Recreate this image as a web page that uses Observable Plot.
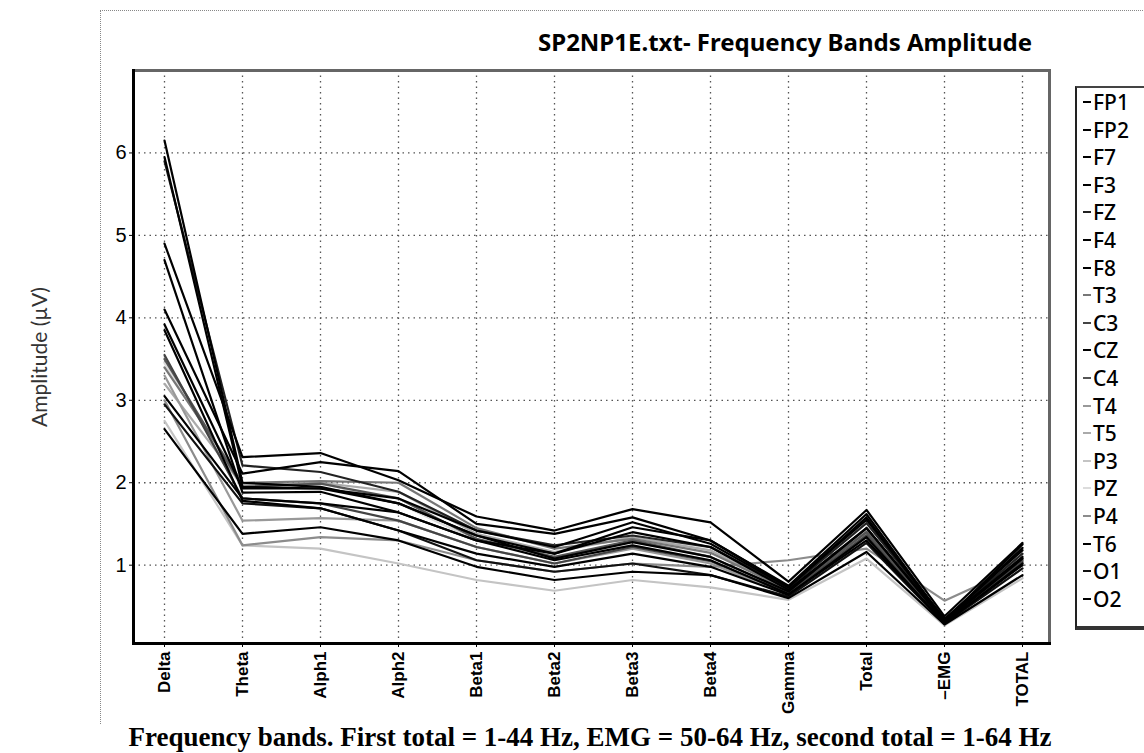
<!DOCTYPE html>
<html>
<head>
<meta charset="utf-8">
<script src="https://cdn.jsdelivr.net/npm/d3@7"></script>
<script src="https://cdn.jsdelivr.net/npm/@observablehq/plot@0.6"></script>
<style>
  html, body { margin: 0; padding: 0; background: #fff; overflow: hidden; }
  #wrap { position: relative; width: 1144px; height: 753px; overflow: hidden; }
  #chart { position: absolute; left: 0; top: 0; }
  #outer { position: absolute; left: 100px; top: 10px; width: 1060px; height: 713px;
           border-top: 1px dotted #888; border-left: 1px dotted #888; }
  #title { position: absolute; right: 112px; top: 28px; font-family: "Noto Sans", sans-serif;
           font-weight: 700; font-size: 24px; line-height: 28px; color: #000; white-space: nowrap; }
  #caption { position: absolute; left: 0; width: 1180px; top: 724px; text-align: center;
             font-family: "Liberation Serif", "Times New Roman", serif; font-weight: 700;
             font-size: 27px; line-height: 27px; color: #000; white-space: nowrap; }
  #legend { position: absolute; left: 1075px; top: 86px; width: 90px; height: 538px;
            border-left: 2px solid #222; border-top: 2px solid #444; border-bottom: 4px solid #333;
            background: #fff; }
  .item { position: absolute; left: 6px; height: 26px; display: flex; align-items: center;
          font-family: "Noto Sans", sans-serif; font-size: 21px; font-weight: 500; color: #000; }
  .sw { display: inline-block; width: 8px; height: 2px; margin-right: 2px; }
</style>
</head>
<body>
<div id="wrap">
  <div id="outer"></div>
  <div id="chart"></div>
  <div id="title"></div>
  <div id="legend"></div>
  <div id="caption"></div>
</div>
<script>
const titleText = "SP2NP1E.txt- Frequency Bands Amplitude";
const captionText = "Frequency bands. First total = 1-44 Hz, EMG = 50-64 Hz, second total = 1-64 Hz";
const yLabel = "Amplitude (\u00b5V)";

const bands = ["Delta", "Theta", "Alph1", "Alph2", "Beta1", "Beta2", "Beta3", "Beta4", "Gamma", "Total", "\u2013EMG", "TOTAL"];
const yTicks = [1, 2, 3, 4, 5, 6];

const channels = ["FP1", "FP2", "F7", "F3", "FZ", "F4", "F8", "T3", "C3", "CZ", "C4", "T4", "T5", "P3", "PZ", "P4", "T6", "O1", "O2"];
const colors   = ["#000", "#000", "#000", "#000", "#222", "#000", "#000", "#777", "#444", "#000", "#555", "#999", "#aaa", "#c4c4c4", "#dcdcdc", "#8c8c8c", "#000", "#111", "#000"];

const FP1 = [6.15, 2.00, 1.95, 1.75, 1.36, 1.14, 1.46, 1.30, 0.75, 1.62, 0.33, 1.25];
const FP2 = [5.95, 1.95, 1.93, 1.81, 1.42, 1.22, 1.52, 1.26, 0.73, 1.58, 0.32, 1.21];
const F7  = [4.90, 2.31, 2.36, 2.03, 1.59, 1.42, 1.68, 1.52, 0.80, 1.67, 0.38, 1.27];
const F3  = [4.10, 2.11, 2.25, 2.14, 1.50, 1.38, 1.58, 1.30, 0.74, 1.55, 0.35, 1.18];
const FZ  = [5.90, 2.21, 2.13, 1.89, 1.42, 1.24, 1.36, 1.22, 0.72, 1.51, 0.34, 1.14];
const F4  = [4.70, 1.88, 1.89, 1.64, 1.30, 1.14, 1.40, 1.22, 0.70, 1.45, 0.33, 1.10];
const F8  = [3.92, 1.93, 1.93, 1.75, 1.36, 1.08, 1.28, 1.10, 0.68, 1.45, 0.31, 1.08];
const T3  = [3.40, 2.00, 2.02, 2.00, 1.45, 1.20, 1.32, 1.15, 0.70, 1.40, 0.32, 1.08];
const C3  = [3.55, 1.81, 1.75, 1.54, 1.22, 1.02, 1.22, 1.05, 0.66, 1.36, 0.30, 1.04];
const CZ  = [3.85, 1.78, 1.69, 1.42, 1.14, 0.98, 1.14, 0.98, 0.64, 1.34, 0.29, 1.02];
const C4  = [3.50, 1.95, 1.99, 1.81, 1.32, 1.10, 1.30, 1.10, 0.68, 1.40, 0.31, 1.06];
const T4  = [3.30, 1.54, 1.57, 1.54, 1.22, 1.02, 1.20, 1.02, 0.64, 1.38, 0.30, 1.02];
const T5  = [3.20, 1.97, 2.00, 1.89, 1.38, 1.16, 1.34, 1.18, 0.70, 1.42, 0.32, 1.10];
const P3  = [2.75, 1.24, 1.20, 1.02, 0.82, 0.69, 0.82, 0.73, 0.58, 1.08, 0.27, 0.84];
const PZ  = [3.45, 1.93, 2.00, 1.75, 1.30, 1.08, 1.24, 1.06, 0.66, 1.38, 0.30, 1.04];
const P4  = [3.00, 1.24, 1.34, 1.30, 1.06, 0.92, 1.02, 0.98, 1.06, 1.20, 0.57, 1.00];
const T6  = [3.05, 1.81, 1.75, 1.64, 1.30, 1.06, 1.24, 1.06, 0.65, 1.30, 0.30, 1.00];
const O1  = [2.95, 1.75, 1.69, 1.42, 1.06, 0.92, 1.02, 0.88, 0.62, 1.27, 0.29, 0.96];
const O2  = [2.65, 1.38, 1.46, 1.30, 0.98, 0.82, 0.92, 0.88, 0.60, 1.16, 0.28, 0.88];

const seriesValues = [FP1, FP2, F7, F3, FZ, F4, F8, T3, C3, CZ, C4, T4, T5, P3, PZ, P4, T6, O1, O2];

// draw lighter lines first so dark ones sit on top
const drawOrder = d3.range(channels.length).sort((a, b) => d3.hsl(colors[b]).l - d3.hsl(colors[a]).l);
const data = drawOrder.flatMap(i => seriesValues[i].map((v, j) => ({channel: channels[i], band: bands[j], value: v})));

const chart = Plot.plot({
  width: 1144,
  height: 753,
  marginLeft: 133,
  marginRight: 95,
  marginTop: 70,
  marginBottom: 110,
  style: {background: "transparent", color: "#000"},
  x: {type: "point", domain: bands, padding: 0, insetLeft: 28, insetRight: 25, label: null},
  y: {domain: [0.05, 7.0], label: null},
  color: {domain: channels, range: colors},
  marks: [
    Plot.gridX(bands, {stroke: "#555", strokeOpacity: 1, strokeWidth: 1.3, strokeDasharray: "1.5,4"}),
    Plot.gridY(yTicks, {stroke: "#555", strokeOpacity: 1, strokeWidth: 1.3, strokeDasharray: "1.5,4"}),
    Plot.line(data, {x: "band", y: "value", z: "channel", stroke: "channel", strokeWidth: 2.2, strokeLinejoin: "round"}),
    Plot.frame({stroke: "#666", strokeWidth: 3}),
    Plot.frame({anchor: "left", stroke: "#000", strokeWidth: 3}),
    Plot.frame({anchor: "bottom", stroke: "#000", strokeWidth: 3}),
    Plot.axisX({tickRotate: -90, tickSize: 4, tickPadding: 4, fontSize: 17, fontWeight: "bold",
                fontFamily: "Liberation Sans, Arial, sans-serif", label: null}),
    Plot.axisY(yTicks, {tickSize: 4, tickPadding: 3, fontSize: 20, tickFormat: d => String(d),
                fontFamily: "Liberation Sans, Arial, sans-serif", label: null}),
    Plot.text([yLabel], {frameAnchor: "left", dx: -93, rotate: -90, textAnchor: "middle", fontSize: 21,
                fontFamily: "Lato, Open Sans, sans-serif", fill: "#333"})
  ]
});
document.getElementById("chart").appendChild(chart);

document.getElementById("title").textContent = titleText;
document.getElementById("caption").textContent = captionText;

const legend = document.getElementById("legend");
const legendTop = 1, legendStep = 27.6;
channels.forEach((c, i) => {
  const item = document.createElement("div");
  item.className = "item";
  item.style.top = (legendTop + i * legendStep) + "px";
  const sw = document.createElement("span");
  sw.className = "sw";
  sw.style.background = colors[i];
  const t = document.createElement("span");
  t.textContent = c;
  item.appendChild(sw);
  item.appendChild(t);
  legend.appendChild(item);
});
</script>
</body>
</html>
